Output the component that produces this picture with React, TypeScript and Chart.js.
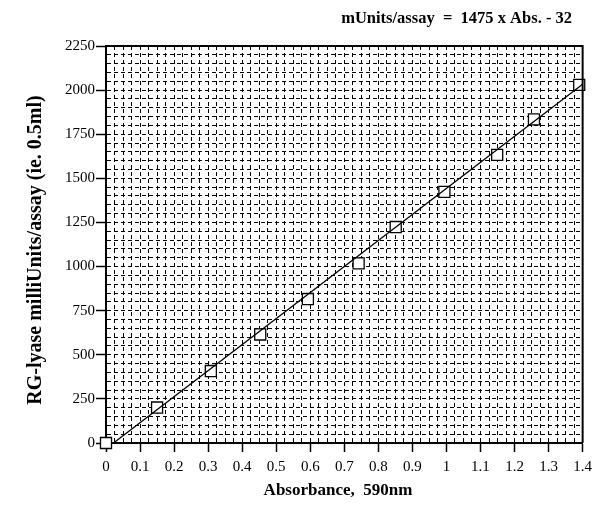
import React, { useEffect, useRef } from "react";
import { Chart, registerables } from "chart.js";
Chart.register(...registerables);

const absorbance = [0, 0.15, 0.308, 0.453, 0.593, 0.742, 0.851, 0.994, 1.149, 1.257, 1.39];
const activity = [0, 201, 408, 615, 816, 1018, 1224, 1423, 1633, 1834, 2030];
const fitLineX = [0.022, 1.4];
const fitLineY = [0, 2033];
const xTickLabels = ["0", "0.1", "0.2", "0.3", "0.4", "0.5", "0.6", "0.7", "0.8", "0.9", "1", "1.1", "1.2", "1.3", "1.4"];
const yTickLabels = ["0", "250", "500", "750", "1000", "1250", "1500", "1750", "2000", "2250"];
const titleText = "mUnits/assay  =  1475 x Abs. - 32";
const xTitle = "Absorbance,  590nm";
const yTitle = "RG-lyase milliUnits/assay (ie. 0.5ml)";

const SERIF = '"Liberation Serif", "Times New Roman", serif';

const textPlugin = {
  id: "textPlugin",
  afterDraw(chart: any) {
    const { ctx, chartArea } = chart;
    ctx.save();
    ctx.strokeStyle = "#000";
    ctx.lineWidth = 2;
    ctx.setLineDash([]);
    ctx.beginPath();
    ctx.moveTo(chartArea.left, chartArea.top);
    ctx.lineTo(chartArea.right, chartArea.top);
    ctx.lineTo(chartArea.right, chartArea.bottom);
    ctx.stroke();

    ctx.fillStyle = "#000";
    ctx.font = `bold 16.5px ${SERIF}`;
    ctx.textBaseline = "middle";
    ctx.textAlign = "right";
    ctx.fillText(titleText, 572, 19);

    ctx.textAlign = "center";
    ctx.font = `bold 17px ${SERIF}`;
    ctx.fillText(xTitle, 338, 491);

    ctx.font = `bold 20px ${SERIF}`;
    ctx.translate(36, 250);
    ctx.rotate(-Math.PI / 2);
    ctx.fillText(yTitle, 0, 0);
    ctx.restore();
  },
};

export default function App() {
  const ref = useRef<HTMLCanvasElement | null>(null);
  useEffect(() => {
    document.body.style.margin = "0";
    const canvas = ref.current!;
    const chart = new Chart(canvas, {
      type: "scatter",
      data: {
        datasets: [
          {
            type: "line",
            data: fitLineX.map((x, i) => ({ x, y: fitLineY[i] })),
            borderColor: "#000",
            borderWidth: 1.3,
            pointRadius: 0,
            fill: false,
            order: 1,
          } as any,
          {
            data: absorbance.map((x, i) => ({ x, y: activity[i] })),
            pointStyle: "rect",
            pointRadius: 7.8,
            pointBackgroundColor: "#fff",
            pointBorderColor: "#000",
            pointBorderWidth: 1.3,
            clip: false,
            order: 2,
          } as any,
        ],
      },
      options: {
        responsive: false,
        animation: false,
        devicePixelRatio: 1,
        layout: { padding: { left: 0, top: 46, right: 11, bottom: 0 } },
        plugins: { legend: { display: false }, tooltip: { enabled: false }, title: { display: false } },
        scales: {
          x: {
            type: "linear",
            min: 0,
            max: 1.4,
            afterFit: (s: any) => { s.height = 70; },
            ticks: {
              stepSize: 0.025,
              autoSkip: false,
              maxTicksLimit: 200,
              maxRotation: 0,
              padding: 6,
              color: "#000",
              font: { family: SERIF, size: 15 },
              callback: (_v: any, i: number) => (i % 4 === 0 ? xTickLabels[i / 4] : ""),
            },
            grid: {
              color: "#000",
              lineWidth: 1,
              tickLength: 9,
              tickBorderDash: [],
              tickColor: (c: any) => (c.index % 4 === 0 ? "#000" : "rgba(0,0,0,0)"),
              tickWidth: 1.5,
            },
            border: { display: true, color: "#000", width: 2, dash: [4, 3] },
          },
          y: {
            type: "linear",
            min: 0,
            max: 2250,
            afterFit: (s: any) => { s.width = 106; },
            ticks: {
              stepSize: 50,
              autoSkip: false,
              maxTicksLimit: 200,
              padding: 1,
              color: "#000",
              font: { family: SERIF, size: 15 },
              callback: (_v: any, i: number) => (i % 5 === 0 ? yTickLabels[i / 5] : ""),
            },
            grid: {
              color: "#000",
              lineWidth: 1,
              tickLength: 10,
              tickBorderDash: [],
              tickColor: (c: any) => (c.index % 5 === 0 ? "#000" : "rgba(0,0,0,0)"),
              tickWidth: 1.5,
            },
            border: { display: true, color: "#000", width: 2, dash: [4, 3] },
          },
        },
      },
      plugins: [textPlugin],
    });
    return () => chart.destroy();
  }, []);
  return (
    <div style={{ width: 598, height: 513 }}>
      <canvas ref={ref} width={598} height={513} style={{ display: "block" }} />
    </div>
  );
}
